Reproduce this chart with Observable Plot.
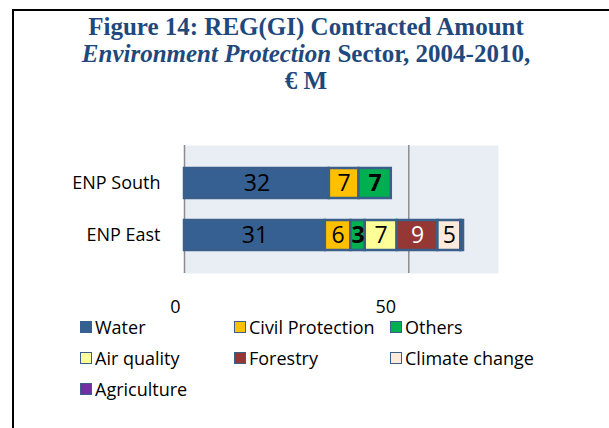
<!DOCTYPE html>
<html>
<head>
<meta charset="utf-8">
<script src="https://cdn.jsdelivr.net/npm/d3@7"></script>
<script src="https://cdn.jsdelivr.net/npm/@observablehq/plot@0.6"></script>
<style>
  html, body { margin: 0; padding: 0; background: #fff; }
  #wrap { position: relative; width: 609px; height: 428px; overflow: hidden; font-family: "Open Sans", sans-serif; }
  #frame { position: absolute; left: 12px; top: 9px; width: 700px; height: 500px; border-left: 2px solid #000; border-top: 2px solid #000; }
  #title { position: absolute; left: 14px; width: 584px; top: 13px; text-align: center; font-family: "Liberation Serif", serif; font-weight: bold; font-size: 25px; line-height: 27px; color: #1f497d; }
  #plot { position: absolute; left: 0; top: 130px; }
  #legend { position: absolute; left: 0; top: 0; width: 609px; height: 428px; pointer-events: none; }
  .item { position: absolute; display: flex; align-items: center; font-size: 18px; color: #000; white-space: nowrap; }
  .sw { width: 10px; height: 10px; border: 1.5px solid #3a5f8b; margin-right: 3px; }
</style>
</head>
<body>
<div id="wrap">
  <div id="frame"></div>
  <div id="title">Figure 14: REG(GI) Contracted Amount<br><i>Environment Protection</i> Sector, 2004-2010,<br>€ M</div>
  <div id="plot"></div>
  <div id="legend"></div>
</div>
<script>
const categories = ["ENP South", "ENP East"];
const series = ["Water", "Civil Protection", "Others", "Air quality", "Forestry", "Climate change", "Agriculture"];
const colors = ["#376092", "#FFC000", "#00B050", "#FFFF99", "#953735", "#FDEADA", "#7030A0"];
const southValues = [32.3, 6.6, 7.2, 0, 0, 0, 0];
const eastValues = [31.4, 5.7, 3.2, 7.1, 9.1, 5.1, 0.6];
const xTicks = [0, 50];

const data = [];
series.forEach((s, i) => {
  data.push({cat: categories[0], series: s, value: southValues[i]});
  data.push({cat: categories[1], series: s, value: eastValues[i]});
});

const stackOpts = (extra) => Plot.stackX({x: "value", y: "cat", z: "series", order: series, ...extra});
const lab = (cond) => (d) => (d.value >= 1 && cond(d)) ? String(Math.round(d.value)) : null;

const plot = Plot.plot({
  width: 609,
  height: 195,
  marginLeft: 184,
  marginRight: 111,
  marginTop: 15,
  marginBottom: 52,
  style: {fontFamily: "Open Sans, sans-serif", fontSize: "18px", color: "#000", background: "transparent"},
  x: {domain: [0, 70], axis: null},
  y: {domain: categories, padding: 0.43, axis: null},
  color: {domain: series, range: colors},
  marks: [
    Plot.frame({fill: "#E9EDF4", stroke: null}),
    Plot.ruleX(xTicks, {stroke: "#8c8c8c", strokeWidth: 1.5}),
    Plot.barX(data, stackOpts({fill: "series", stroke: "#3a5f8b", strokeWidth: 2.5, filter: d => d.value > 0})),
    Plot.text(data, stackOpts({text: lab(d => d.series !== "Others" && d.series !== "Forestry"), fill: "#000", fontSize: 23})),
    Plot.text(data, stackOpts({text: lab(d => d.series === "Others"), fill: "#000", fontSize: 23, fontWeight: "bold"})),
    Plot.text(data, stackOpts({text: lab(d => d.series === "Forestry"), fill: "#fff", fontSize: 23})),
    Plot.axisY({tickSize: 0, tickPadding: 24, fontSize: 18, label: null}),
    Plot.text([xTicks[0]], {x: d => d, frameAnchor: "bottom", dy: 39, dx: -9, fontSize: 18, text: d => d}),
    Plot.text([xTicks[1]], {x: d => d, frameAnchor: "bottom", dy: 39, dx: -23, fontSize: 18, text: d => d})
  ]
});
document.getElementById("plot").appendChild(plot);

// legend
const leg = document.getElementById("legend");
const colX = [80, 234, 390];
const rowY = [327, 358, 389];
series.forEach((s, i) => {
  const el = document.createElement("div");
  el.className = "item";
  el.style.left = colX[i % 3] + "px";
  el.style.top = (rowY[Math.floor(i / 3)] - 13) + "px";
  el.style.height = "26px";
  const sw = document.createElement("span");
  sw.className = "sw";
  sw.style.background = colors[i];
  if (i === 0) sw.style.borderColor = colors[0];
  el.appendChild(sw);
  el.appendChild(document.createTextNode(s));
  leg.appendChild(el);
});
</script>
</body>
</html>
